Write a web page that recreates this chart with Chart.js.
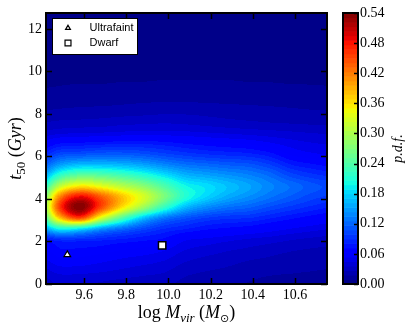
<!DOCTYPE html>
<html>
<head>
<meta charset="utf-8">
<script src="https://cdn.jsdelivr.net/npm/chart.js@4.4.1/dist/chart.umd.min.js"></script>
<style>
  html, body { margin: 0; padding: 0; background: #fff; }
  #wrap { position: relative; width: 407px; height: 331px; }
  #main { position: absolute; left: 0; top: 0; }
  #cbar { position: absolute; left: 335px; top: 0; }
</style>
</head>
<body>
<div id="wrap">
  <canvas id="main" width="335" height="331"></canvas>
  <canvas id="cbar" width="72" height="331"></canvas>
</div>
<script>
// grid of the density map
const gridX = [9.38, 9.48, 9.58, 9.68, 9.78, 9.88, 9.98, 10.08, 10.18, 10.28, 10.38, 10.48, 10.58, 10.68, 10.78];
const gridY = [0.1, 0.6, 1.1, 1.6, 2.1, 2.6, 3.1, 3.6, 4.1, 4.6, 5.1, 5.6, 6.1, 6.6, 7.1, 7.6, 8.1, 8.6, 9.1, 9.6, 10.1, 10.6, 11.1, 11.6, 12.1, 12.6, 13.1];
// one row per gridY value, one column per gridX value
const density = [
  [0.030, 0.038, 0.038, 0.036, 0.034, 0.032, 0.030, 0.025, 0.022, 0.020, 0.018, 0.016, 0.015, 0.014, 0.013],
  [0.038, 0.048, 0.048, 0.046, 0.043, 0.040, 0.037, 0.030, 0.027, 0.025, 0.022, 0.020, 0.019, 0.018, 0.017],
  [0.048, 0.060, 0.060, 0.056, 0.052, 0.049, 0.045, 0.037, 0.033, 0.030, 0.027, 0.025, 0.023, 0.022, 0.021],
  [0.056, 0.070, 0.070, 0.068, 0.063, 0.060, 0.055, 0.045, 0.041, 0.037, 0.034, 0.031, 0.028, 0.026, 0.025],
  [0.070, 0.090, 0.090, 0.085, 0.080, 0.075, 0.070, 0.056, 0.052, 0.048, 0.044, 0.041, 0.037, 0.034, 0.032],
  [0.130, 0.200, 0.190, 0.150, 0.125, 0.105, 0.090, 0.082, 0.074, 0.070, 0.066, 0.060, 0.054, 0.049, 0.045],
  [0.180, 0.370, 0.450, 0.330, 0.240, 0.170, 0.130, 0.110, 0.098, 0.092, 0.090, 0.082, 0.074, 0.067, 0.062],
  [0.200, 0.450, 0.540, 0.450, 0.360, 0.290, 0.220, 0.165, 0.140, 0.126, 0.118, 0.106, 0.096, 0.087, 0.080],
  [0.195, 0.410, 0.490, 0.440, 0.380, 0.330, 0.270, 0.212, 0.180, 0.158, 0.143, 0.128, 0.115, 0.103, 0.096],
  [0.170, 0.310, 0.360, 0.340, 0.310, 0.280, 0.240, 0.200, 0.186, 0.170, 0.155, 0.138, 0.125, 0.112, 0.105],
  [0.130, 0.220, 0.255, 0.250, 0.235, 0.215, 0.190, 0.165, 0.155, 0.146, 0.137, 0.124, 0.105, 0.094, 0.088],
  [0.100, 0.150, 0.170, 0.170, 0.165, 0.155, 0.140, 0.128, 0.122, 0.116, 0.112, 0.100, 0.082, 0.074, 0.069],
  [0.075, 0.105, 0.110, 0.115, 0.115, 0.110, 0.102, 0.095, 0.090, 0.087, 0.084, 0.076, 0.062, 0.056, 0.053],
  [0.055, 0.072, 0.075, 0.078, 0.080, 0.080, 0.077, 0.072, 0.068, 0.065, 0.062, 0.056, 0.050, 0.046, 0.044],
  [0.038, 0.043, 0.045, 0.046, 0.048, 0.049, 0.049, 0.048, 0.046, 0.044, 0.042, 0.040, 0.038, 0.036, 0.035],
  [0.026, 0.029, 0.030, 0.031, 0.033, 0.034, 0.035, 0.034, 0.032, 0.030, 0.0285, 0.027, 0.026, 0.025, 0.024],
  [0.018, 0.020, 0.021, 0.022, 0.023, 0.024, 0.025, 0.025, 0.024, 0.023, 0.022, 0.021, 0.020, 0.019, 0.0185],
  [0.013, 0.014, 0.015, 0.015, 0.016, 0.017, 0.0175, 0.0175, 0.017, 0.0165, 0.016, 0.0155, 0.015, 0.0145, 0.014],
  [0.0095, 0.010, 0.011, 0.011, 0.0115, 0.012, 0.0125, 0.0125, 0.012, 0.012, 0.0115, 0.011, 0.011, 0.0105, 0.010],
  [0.0075, 0.008, 0.008, 0.008, 0.0085, 0.0085, 0.009, 0.009, 0.009, 0.009, 0.0085, 0.0085, 0.008, 0.008, 0.008],
  [0.006, 0.006, 0.006, 0.006, 0.0065, 0.0065, 0.0065, 0.0065, 0.0065, 0.0065, 0.0065, 0.006, 0.006, 0.006, 0.006],
  [0.005, 0.005, 0.005, 0.005, 0.005, 0.005, 0.005, 0.005, 0.005, 0.005, 0.005, 0.005, 0.005, 0.005, 0.005],
  [0.0045, 0.0045, 0.0045, 0.0045, 0.0045, 0.0045, 0.0045, 0.0045, 0.0045, 0.0045, 0.0045, 0.0045, 0.0045, 0.0045, 0.0045],
  [0.004, 0.004, 0.004, 0.004, 0.004, 0.004, 0.004, 0.004, 0.004, 0.004, 0.004, 0.004, 0.004, 0.004, 0.004],
  [0.004, 0.004, 0.004, 0.004, 0.004, 0.004, 0.004, 0.004, 0.004, 0.004, 0.004, 0.004, 0.004, 0.004, 0.004],
  [0.004, 0.004, 0.004, 0.004, 0.004, 0.004, 0.004, 0.004, 0.004, 0.004, 0.004, 0.004, 0.004, 0.004, 0.004],
  [0.004, 0.004, 0.004, 0.004, 0.004, 0.004, 0.004, 0.004, 0.004, 0.004, 0.004, 0.004, 0.004, 0.004, 0.004]
];

const seriesNames = ['Ultrafaint', 'Dwarf'];
const ultrafaint = [{ x: 9.52, y: 1.38 }];
const dwarf = [{ x: 9.97, y: 1.82 }];

const xTicks = [9.6, 9.8, 10.0, 10.2, 10.4, 10.6];
const yTicks = [0, 2, 4, 6, 8, 10, 12];
const cbarTicks = [0, 0.06, 0.12, 0.18, 0.24, 0.30, 0.36, 0.42, 0.48, 0.54];

const vMax = 0.54;
const nLevels = 60;
const serif = '"Liberation Serif", "DejaVu Serif", serif';

// --- colormap (matplotlib jet) ---
function lerpStops(t, xs, ys) {
    for (let i = 1; i < xs.length; i++) {
        if (t <= xs[i]) {
            const f = (t - xs[i - 1]) / (xs[i] - xs[i - 1]);
            return ys[i - 1] + f * (ys[i] - ys[i - 1]);
        }
    }
    return ys[ys.length - 1];
}
function jet(t) {
    t = Math.max(0, Math.min(1, t));
    const r = lerpStops(t, [0, 0.35, 0.66, 0.89, 1], [0, 0, 1, 1, 0.5]);
    const g = lerpStops(t, [0, 0.125, 0.375, 0.64, 0.91, 1], [0, 0, 1, 1, 0, 0]);
    const b = lerpStops(t, [0, 0.11, 0.34, 0.65, 1], [0.5, 1, 1, 0, 0]);
    return [Math.round(r * 255), Math.round(g * 255), Math.round(b * 255)];
}
function levelColor(v) {
    let k = Math.floor(v / vMax * nLevels);
    k = Math.max(0, Math.min(nLevels - 1, k));
    return jet((k + 0.5) / nLevels);
}

// --- smooth lookup into the grid ---
function cr(p0, p1, p2, p3, t) {
    return p1 + 0.5 * t * (p2 - p0 + t * (2 * p0 - 5 * p1 + 4 * p2 - p3 + t * (3 * (p1 - p2) + p3 - p0)));
}
function cell(i, j) {
    i = Math.max(0, Math.min(gridX.length - 1, i));
    j = Math.max(0, Math.min(gridY.length - 1, j));
    return density[j][i];
}
function sample(xv, yv) {
    const fx = (xv - gridX[0]) / (gridX[1] - gridX[0]);
    const fy = (yv - gridY[0]) / (gridY[1] - gridY[0]);
    const i = Math.floor(fx), j = Math.floor(fy);
    const tx = fx - i, ty = fy - j;
    const col = [];
    for (let m = -1; m <= 2; m++) {
        col.push(cr(cell(i - 1, j + m), cell(i, j + m), cell(i + 1, j + m), cell(i + 2, j + m), tx));
    }
    return Math.max(0, cr(col[0], col[1], col[2], col[3], ty));
}

const heatmapPlugin = {
    id: 'heatmap',
    beforeDatasetsDraw(chart) {
        const { ctx, chartArea: a, scales } = chart;
        const w = Math.round(a.right - a.left), h = Math.round(a.bottom - a.top);
        const off = document.createElement('canvas');
        off.width = w; off.height = h;
        const octx = off.getContext('2d');
        const img = octx.createImageData(w, h);
        for (let j = 0; j < h; j++) {
            const yv = scales.y.getValueForPixel(a.top + j + 0.5);
            for (let i = 0; i < w; i++) {
                const xv = scales.x.getValueForPixel(a.left + i + 0.5);
                const c = levelColor(sample(xv, yv));
                const k = (j * w + i) * 4;
                img.data[k] = c[0]; img.data[k + 1] = c[1]; img.data[k + 2] = c[2]; img.data[k + 3] = 255;
            }
        }
        octx.putImageData(img, 0, 0);
        ctx.drawImage(off, a.left, a.top);
    }
};

function drawRich(ctx, parts, cx, y) {
    let total = 0;
    parts.forEach(p => { ctx.font = p[1]; total += ctx.measureText(p[0]).width; });
    let x = cx - total / 2;
    parts.forEach(p => {
        ctx.font = p[1];
        ctx.fillText(p[0], x, y + (p[2] || 0));
        x += ctx.measureText(p[0]).width;
    });
}

const framePlugin = {
    id: 'frame',
    afterDraw(chart) {
        const { ctx, chartArea: a, scales } = chart;
        ctx.save();
        // inward ticks on all four sides
        ctx.strokeStyle = '#000';
        ctx.lineWidth = 1.5;
        ctx.beginPath();
        xTicks.forEach(v => {
            const px = Math.round(scales.x.getPixelForValue(v)) + 0.5;
            ctx.moveTo(px, a.bottom); ctx.lineTo(px, a.bottom - 6);
            ctx.moveTo(px, a.top); ctx.lineTo(px, a.top + 6);
        });
        yTicks.forEach(v => {
            const py = Math.round(scales.y.getPixelForValue(v)) + 0.5;
            ctx.moveTo(a.left, py); ctx.lineTo(a.left + 6, py);
            ctx.moveTo(a.right, py); ctx.lineTo(a.right - 6, py);
        });
        ctx.stroke();
        ctx.lineWidth = 2;
        ctx.strokeRect(a.left, a.top, a.right - a.left, a.bottom - a.top);

        // legend box in the upper left corner
        const lx = a.left + 6.5, ly = a.top + 5.5;
        ctx.fillStyle = '#fff';
        ctx.fillRect(lx, ly, 85, 36);
        ctx.lineWidth = 1;
        ctx.strokeRect(lx, ly, 85, 36);
        ctx.font = '11px "Liberation Sans", Arial, sans-serif';
        ctx.textBaseline = 'middle';
        ctx.textAlign = 'left';
        chart.data.datasets.forEach((ds, i) => {
            const my = ly + 9.5 + i * 15;
            ctx.fillStyle = '#fff';
            ctx.strokeStyle = '#000';
            ctx.lineWidth = 1.2;
            Chart.helpers.drawPoint(ctx, { pointStyle: ds.pointStyle, radius: ds.pointRadius - 1, borderWidth: 1.2, rotation: 0 }, lx + 15.5, my);
            ctx.fillStyle = '#000';
            ctx.fillText(ds.label, lx + 37, my);
        });

        // axis titles
        ctx.fillStyle = '#000';
        ctx.textBaseline = 'alphabetic';
        ctx.textAlign = 'left';
        drawRich(ctx, [
            ['log ', `18px ${serif}`],
            ['M', `italic 18px ${serif}`],
            ['vir', `italic 13px ${serif}`, 4],
            [' (', `18px ${serif}`],
            ['M', `italic 18px ${serif}`],
            ['\u2299', '11px "DejaVu Sans", sans-serif', 4],
            [')', `18px ${serif}`]
        ], (a.left + a.right) / 2, 318);
        ctx.translate(21, (a.top + a.bottom) / 2);
        ctx.rotate(-Math.PI / 2);
        drawRich(ctx, [
            ['t', `italic 18px ${serif}`],
            ['50', `13px ${serif}`, 4],
            [' (', `18px ${serif}`],
            ['Gyr', `italic 18px ${serif}`],
            [')', `18px ${serif}`]
        ], 0, 0);
        ctx.restore();
    }
};

const tickFont = { family: serif, size: 14 };

new Chart(document.getElementById('main'), {
    type: 'scatter',
    data: {
        datasets: [{
            label: seriesNames[0],
            data: ultrafaint,
            pointStyle: 'triangle',
            pointRadius: 3.8,
            backgroundColor: '#fff',
            borderColor: '#000',
            borderWidth: 1.2
        }, {
            label: seriesNames[1],
            data: dwarf,
            pointStyle: 'rect',
            pointRadius: 5.2,
            backgroundColor: '#fff',
            borderColor: '#000',
            borderWidth: 1.5
        }]
    },
    options: {
        responsive: false,
        animation: false,
        events: [],
        layout: { padding: { top: 13, right: 8, left: 0, bottom: 0 } },
        plugins: { legend: { display: false }, tooltip: { enabled: false } },
        scales: {
            x: {
                type: 'linear',
                min: 9.419,
                max: 10.752,
                grid: { display: false, drawTicks: false },
                border: { display: false },
                ticks: { font: tickFont, color: '#000', padding: 3, maxRotation: 0, autoSkip: false, callback: v => v.toFixed(1) },
                afterBuildTicks: s => { s.ticks = xTicks.map(v => ({ value: v })); },
                afterFit: s => { s.height = 47; }
            },
            y: {
                type: 'linear',
                min: 0,
                max: 12.75,
                grid: { display: false, drawTicks: false },
                border: { display: false },
                ticks: { font: tickFont, color: '#000', padding: 4, autoSkip: false, callback: v => String(v) },
                afterBuildTicks: s => { s.ticks = yTicks.map(v => ({ value: v })); },
                afterFit: s => { s.width = 46; }
            }
        }
    },
    plugins: [heatmapPlugin, framePlugin]
});

// --- colorbar ---
const cbarPlugin = {
    id: 'cbarFill',
    beforeDatasetsDraw(chart) {
        const { ctx, chartArea: a, scales } = chart;
        ctx.save();
        for (let k = 0; k < nLevels; k++) {
            const y0 = scales.y.getPixelForValue(k * vMax / nLevels);
            const y1 = scales.y.getPixelForValue((k + 1) * vMax / nLevels);
            const c = jet((k + 0.5) / nLevels);
            ctx.fillStyle = `rgb(${c[0]},${c[1]},${c[2]})`;
            ctx.fillRect(a.left, y1, a.right - a.left, y0 - y1 + 0.6);
        }
        ctx.restore();
    },
    afterDraw(chart) {
        const { ctx, chartArea: a, scales } = chart;
        ctx.save();
        ctx.strokeStyle = '#000';
        ctx.lineWidth = 1.5;
        ctx.beginPath();
        cbarTicks.forEach(v => {
            const py = Math.round(scales.y.getPixelForValue(v)) + 0.5;
            ctx.moveTo(a.right, py); ctx.lineTo(a.right - 4, py);
        });
        ctx.stroke();
        ctx.lineWidth = 2;
        ctx.strokeRect(a.left, a.top, a.right - a.left, a.bottom - a.top);
        ctx.fillStyle = '#000';
        ctx.font = `italic 14px ${serif}`;
        ctx.textAlign = 'center';
        ctx.textBaseline = 'middle';
        ctx.translate(63, (a.top + a.bottom) / 2);
        ctx.rotate(-Math.PI / 2);
        ctx.fillText('p.d.f.', 0, 0);
        ctx.restore();
    }
};

new Chart(document.getElementById('cbar'), {
    type: 'scatter',
    data: { datasets: [] },
    options: {
        responsive: false,
        animation: false,
        events: [],
        layout: { padding: { top: 13, right: 0, left: 8, bottom: 47 } },
        plugins: { legend: { display: false }, tooltip: { enabled: false } },
        scales: {
            x: { type: 'linear', display: false, min: 0, max: 1 },
            y: {
                type: 'linear',
                position: 'right',
                min: 0,
                max: vMax,
                grid: { display: false, drawTicks: false },
                border: { display: false },
                ticks: { font: tickFont, color: '#000', padding: 2, autoSkip: false, callback: v => v.toFixed(2) },
                afterBuildTicks: s => { s.ticks = cbarTicks.map(v => ({ value: v })); },
                afterFit: s => { s.width = 49; }
            }
        }
    },
    plugins: [cbarPlugin]
});
</script>
</body>
</html>
